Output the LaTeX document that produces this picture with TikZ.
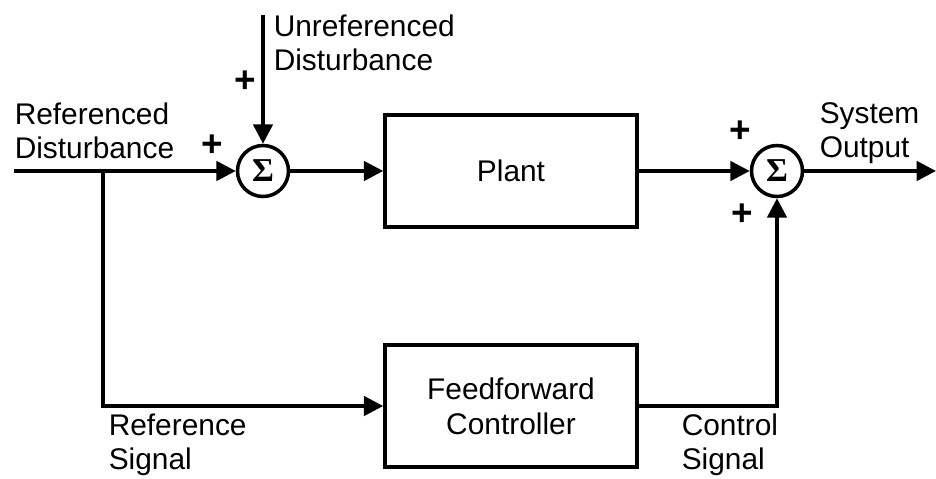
\documentclass[tikz,border=0pt]{standalone}
\usepackage{fontspec}
\setmainfont{Liberation Sans}
\newfontfamily\sigmafont{Liberation Serif}
\usetikzlibrary{arrows.meta}

\tikzset{
  block/.style={draw, line width=2pt, minimum width=5.04cm, font=\fontsize{17}{20}\selectfont, align=center},
  sumnode/.style={draw, circle, line width=2pt, minimum size=1.02cm, inner sep=0pt, font=\sigmafont\fontsize{19}{19}\bfseries\selectfont},
  lbl/.style={inner sep=0pt, align=left, font=\fontsize{17}{19.5}\selectfont},
  sgn/.style={inner sep=0pt, font=\fontsize{21}{21}\bfseries\selectfont},
}

\begin{document}
\begin{tikzpicture}[>={Triangle[length=11pt,width=11pt]}, line width=2pt]
    \useasboundingbox (0,0) rectangle (18.72,9.58);

    % Blocks
    \node[sumnode] (sumA) at (5.26,6.16) {Σ};
    \node[block, minimum height=2.24cm] (plant) at (10.22,6.16) {Plant};
    \node[sumnode] (sumB) at (15.54,6.16) {Σ};
    \node[block, minimum height=2.44cm] (ffc) at (10.22,1.46) {Feedforward\\Controller};

    % Inputs and output
    \coordinate (refin) at (0.28,6.16);
    \coordinate (branch) at (2.06,6.16);
    \coordinate (unrefin) at (5.26,9.28);
    \coordinate (out) at (18.72,6.16);

    % Forward path
    \draw[->] (refin) -- (sumA);
    \draw[->] (unrefin) -- (sumA);
    \draw[->] (sumA) -- (plant);
    \draw[->] (plant) -- (sumB);
    \draw[->] (sumB) -- (out);

    % Feedforward path
    \draw[->] (branch) |- (ffc);
    \draw[->] (ffc) -| (sumB);

    % Signal labels
    \node[lbl, anchor=west] (unreflbl) at (5.44,8.72) {Unreferenced\\Disturbance};
    \node[lbl, anchor=west] (reflbl) at (0.26,6.96) {Referenced\\Disturbance};
    \node[lbl, anchor=west] (outlbl) at (16.36,6.92) {System\\Output};
    \node[lbl, anchor=west] (refsig) at (2.14,0.68) {Reference\\Signal};
    \node[lbl, anchor=west] (ctrlsig) at (13.6,0.68) {Control\\Signal};

    % Signs
    \node[sgn] (pA1) at (4.9,7.94) {+};
    \node[sgn] (pA2) at (4.24,6.66) {+};
    \node[sgn] (pB1) at (14.8,6.94) {+};
    \node[sgn] (pB2) at (14.84,5.28) {+};
\end{tikzpicture}
\end{document}
